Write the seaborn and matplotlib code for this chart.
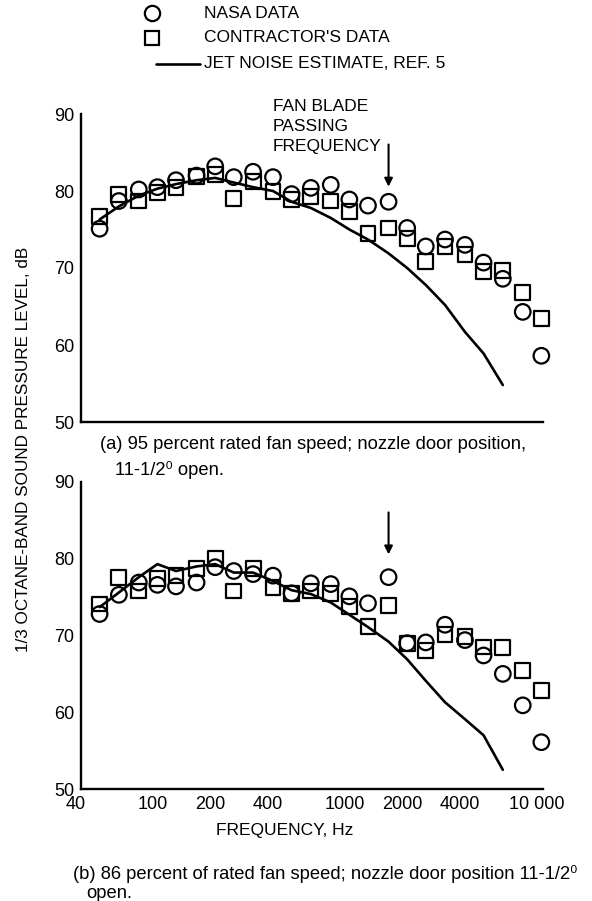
import matplotlib
matplotlib.use("Agg")
import matplotlib.pyplot as plt
import matplotlib.ticker as mticker
from matplotlib.transforms import offset_copy
import seaborn as sns
import pandas as pd

# 1/3 octave band centre frequencies, Hz
bands = [50, 63, 80, 100, 125, 160, 200, 250, 315, 400, 500, 630, 800,
         1000, 1250, 1600, 2000, 2500, 3150, 4000, 5000, 6300, 8000, 10000]
jet_bands = bands[:22]

# (a) 95 percent rated fan speed
nasa_a = [75.1, 78.7, 80.2, 80.5, 81.4, 82.0, 83.2, 81.8, 82.5, 81.8, 79.6, 80.4,
          80.8, 78.9, 78.1, 78.6, 75.2, 72.8, 73.7, 73.0, 70.7, 68.6, 64.3, 58.6]
contr_a = [76.7, 79.6, 78.7, 79.8, 80.5, 81.9, 82.1, 79.0, 81.2, 79.9, 78.9, 79.3,
           78.7, 77.3, 74.5, 75.2, 73.8, 70.8, 72.8, 71.7, 69.5, 69.7, 66.8, 63.4]
jet_a = [76.3, 78.0, 79.4, 80.3, 80.9, 81.4, 81.7, 81.1, 80.5, 80.0, 78.6, 77.8,
         76.5, 75.0, 73.7, 71.9, 70.0, 67.8, 65.2, 61.7, 58.9, 54.8]

# (b) 86 percent rated fan speed
nasa_b = [72.8, 75.3, 76.9, 76.6, 76.4, 76.9, 78.9, 78.4, 78.0, 77.8, 75.5, 76.8,
          76.7, 75.1, 74.2, 77.6, 69.0, 69.1, 71.4, 69.4, 67.4, 65.0, 60.9, 56.1]
contr_b = [74.1, 77.5, 75.8, 77.4, 77.8, 78.7, 80.0, 75.8, 78.7, 76.3, 75.5, 75.8,
           75.5, 73.8, 71.2, 73.9, 69.0, 68.1, 70.1, 69.9, 68.5, 68.4, 65.4, 62.8]
jet_b = [73.7, 75.6, 77.6, 79.3, 78.4, 79.0, 79.3, 78.2, 78.2, 77.1, 75.9, 75.4,
         74.3, 72.7, 71.1, 69.2, 66.9, 64.1, 61.3, 59.1, 57.0, 52.5]

xtick_vals = [40, 100, 200, 400, 1000, 2000, 4000, 10000]
xtick_text = ['40', '100', '200', '400', '1000', '2000', '4000', '10 000']
blade_freq = 1600

sns.set_style('white')
plt.rcParams['font.family'] = ['Liberation Sans', 'DejaVu Sans']
plt.rcParams['axes.linewidth'] = 1.7
for k in ['text.color', 'axes.labelcolor', 'xtick.color', 'ytick.color',
          'axes.edgecolor']:
    plt.rcParams[k] = 'black'

W, H = 592, 901
fig = plt.figure(figsize=(W / 100, H / 100), dpi=100)


def px_box(left, top, right, bottom):
    return [left / W, 1 - bottom / H, (right - left) / W, (bottom - top) / H]


ax_a = fig.add_axes(px_box(81, 114, 543, 422))
ax_b = fig.add_axes(px_box(81, 482, 543, 789))


def draw_panel(ax, nasa, contr, jet, minor_start):
    df = pd.DataFrame({'f': bands, 'nasa': nasa, 'contr': contr})
    dj = pd.DataFrame({'f': jet_bands, 'jet': jet})
    sns.lineplot(data=dj, x='f', y='jet', color='black', lw=1.9, ax=ax)
    sns.scatterplot(data=df, x='f', y='contr', marker='s', s=115,
                    facecolors='none', edgecolor='black', linewidth=1.6,
                    ax=ax, clip_on=False, zorder=3)
    sns.scatterplot(data=df, x='f', y='nasa', marker='o', s=125,
                    facecolors='none', edgecolor='black', linewidth=1.6,
                    ax=ax, clip_on=False, zorder=4)
    ax.set_xscale('log')
    ax.set_xlim(40, 10200)
    ax.set_ylim(50, 90)
    ax.set_yticks([50, 60, 70, 80, 90])
    ax.set_xlabel('')
    ax.set_ylabel('')
    sns.despine(ax=ax)
    major = [100, 1000, 10000]
    minor = [m * d for d in (10, 100, 1000) for m in range(1, 10)
             if minor_start <= m * d < 10000 and m * d not in major]
    ax.xaxis.set_major_locator(mticker.FixedLocator(major))
    ax.xaxis.set_minor_locator(mticker.FixedLocator(minor))
    ax.xaxis.set_major_formatter(mticker.NullFormatter())
    ax.xaxis.set_minor_formatter(mticker.NullFormatter())
    ax.tick_params(axis='x', which='major', direction='in', length=17, width=1.7)
    ax.tick_params(axis='x', which='minor', direction='in', length=9, width=1.7)
    ax.tick_params(axis='y', direction='in', length=14, width=1.7,
                   labelsize=13, pad=5)
    # fan blade passing frequency marker
    ax.annotate('', xy=(blade_freq, 80.2), xytext=(blade_freq, 86.4),
                arrowprops=dict(arrowstyle='-|>', color='black', lw=1.5,
                                mutation_scale=12))


draw_panel(ax_a, nasa_a, contr_a, jet_a, 200)
draw_panel(ax_b, nasa_b, contr_b, jet_b, 40)

# labelled frequency axis on the lower panel
lab_tr = offset_copy(ax_b.get_xaxis_transform(), fig=fig, x=-5, y=-7,
                     units='dots')
for v, t in zip(xtick_vals, xtick_text):
    ax_b.text(v, 0, t, transform=lab_tr, ha='center', va='top', fontsize=13)

ax_a.text(400, 88.4, 'FAN BLADE\nPASSING\nFREQUENCY', ha='left', va='center',
          fontsize=12.5, linespacing=1.4)

fig.text(24 / W, 1 - 449 / H, '1/3 OCTANE-BAND SOUND PRESSURE LEVEL, dB',
         rotation=90, ha='center', va='center', fontsize=12.3)
fig.text(285 / W, 1 - 830 / H, 'FREQUENCY, Hz', ha='center', va='center',
         fontsize=12.5)

cap_fs = 13.2
fig.text(100 / W, 1 - 445 / H,
         '(a) 95 percent rated fan speed; nozzle door position,',
         ha='left', va='center', fontsize=cap_fs)
fig.text(115 / W, 1 - 470 / H, '11-1/2\u2070 open.', ha='left', va='center',
         fontsize=cap_fs)
fig.text(73 / W, 1 - 874 / H,
         '(b) 86 percent of rated fan speed; nozzle door position 11-1/2\u2070',
         ha='left', va='center', fontsize=cap_fs)
fig.text(86 / W, 1 - 893 / H, 'open.', ha='left', va='center', fontsize=cap_fs)

# key at the top of the figure
key = fig.add_axes([0, 0, 1, 1], facecolor='none')
key.set_xlim(0, W)
key.set_ylim(H, 0)
key.axis('off')
key.plot([152], [13], 'o', mfc='none', mec='black', ms=11, mew=1.6)
key.plot([152], [38], 's', mfc='none', mec='black', ms=10.5, mew=1.6)
key.plot([156, 200], [64, 64], color='black', lw=1.9)
for yy, label in zip([13, 38, 64], ['NASA DATA', "CONTRACTOR'S DATA",
                                    'JET NOISE ESTIMATE, REF. 5']):
    key.text(204, yy, label, ha='left', va='center', fontsize=12.5)

fig.savefig('out.png', dpi=100)
